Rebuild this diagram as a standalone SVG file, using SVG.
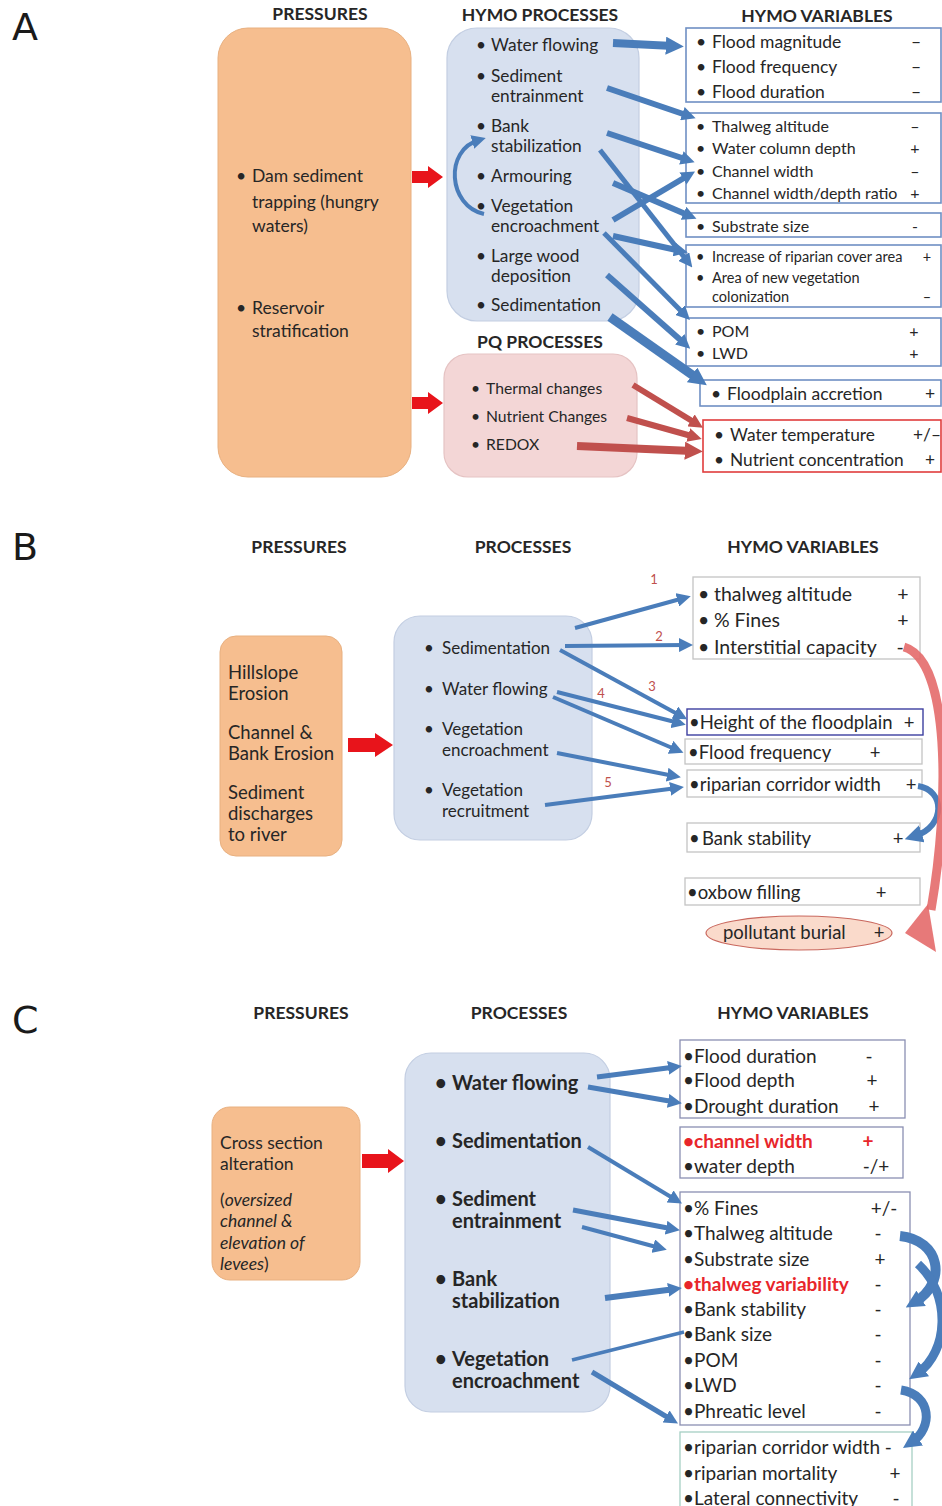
<svg xmlns="http://www.w3.org/2000/svg" width="942" height="1506" viewBox="0 0 942 1506">
<style>
text{font-family:Lato,"Open Sans","Liberation Sans",sans-serif;fill:#262626;dominant-baseline:central}
.lbl{font-family:"DejaVu Sans",sans-serif;font-size:38px;fill:#1a1a1a}
.hd{font-weight:bold;font-size:17.5px;text-anchor:middle}
.press{fill:#F6BE8F;stroke:#E8B080;stroke-width:1}
.proc{fill:#D7E0EF;stroke:#C3CEE2;stroke-width:1.2}
.pq{fill:#F3D6D6;stroke:#E5C3C3;stroke-width:1.2}
.vb{fill:#fff;stroke:#6F8FC4;stroke-width:1.6}
.vr{fill:#fff;stroke:#E03C3C;stroke-width:1.6}
.vg{fill:#fff;stroke:#C4C4C4;stroke-width:1.3}
.vc{fill:#fff;stroke:#8A8FB2;stroke-width:1.3}
.vt{fill:#fff;stroke:#A6CFC4;stroke-width:1.3}
.bl{fill:none;stroke:#4A7DBA;marker-end:url(#mb)}
.bL{fill:none;stroke:#4A7DBA;marker-end:url(#mB)}
.rl{fill:none;stroke:#C0504D;marker-end:url(#mr)}
.rL{fill:none;stroke:#C0504D;marker-end:url(#mR)}
.rp{fill:#E8141B}
.s{text-anchor:middle}
.num{fill:#C0504D;font-size:13px;text-anchor:middle}
.red{fill:#E8262B;font-weight:bold}
</style>
<defs>
<marker id="mb" viewBox="0 0 10 10" refX="5" refY="5" markerWidth="14" markerHeight="14" markerUnits="userSpaceOnUse" orient="auto"><path d="M0,0 L10,5 L0,10 z" fill="#4A7DBA"/></marker>
<marker id="mB" viewBox="0 0 10 10" refX="4" refY="5" markerWidth="18" markerHeight="18" markerUnits="userSpaceOnUse" orient="auto"><path d="M0,0 L10,5 L0,10 z" fill="#4A7DBA"/></marker>
<marker id="mr" viewBox="0 0 10 10" refX="5" refY="5" markerWidth="14" markerHeight="14" markerUnits="userSpaceOnUse" orient="auto"><path d="M0,0 L10,5 L0,10 z" fill="#C0504D"/></marker>
<marker id="mR" viewBox="0 0 10 10" refX="4" refY="5" markerWidth="18" markerHeight="18" markerUnits="userSpaceOnUse" orient="auto"><path d="M0,0 L10,5 L0,10 z" fill="#C0504D"/></marker>
</defs>

<!-- Panel labels -->
<text class="lbl" x="12" y="27">A</text>
<text class="lbl" x="12" y="547">B</text>
<text class="lbl" x="12" y="1020">C</text>

<!-- ================= PANEL A ================= -->
<g id="A-headers">
<text class="hd" x="320" y="13">PRESSURES</text>
<text class="hd" x="540" y="14">HYMO PROCESSES</text>
<text class="hd" x="817" y="15">HYMO VARIABLES</text>
<text class="hd" x="540" y="341">PQ PROCESSES</text>
</g>

<g id="A-pressures">
<rect class="press" x="218" y="28" width="193" height="449" rx="30"/>
<text font-size="17.5"><tspan x="236" y="175">•</tspan><tspan x="252" y="175">Dam sediment</tspan></text>
<text font-size="17.5" x="252" y="201">trapping (hungry</text>
<text font-size="17.5" x="252" y="225">waters)</text>
<text font-size="17.5"><tspan x="236" y="307">•</tspan><tspan x="252" y="307">Reservoir</tspan></text>
<text font-size="17.5" x="252" y="330">stratification</text>
</g>

<g id="A-hymo-processes">
<rect class="proc" x="447" y="28" width="192" height="293" rx="30"/>
<text font-size="17.3"><tspan x="476" y="44">•</tspan><tspan x="491" y="44">Water flowing</tspan></text>
<text font-size="17.3"><tspan x="476" y="75">•</tspan><tspan x="491" y="75">Sediment</tspan></text>
<text font-size="17.3" x="491" y="95">entrainment</text>
<text font-size="17.3"><tspan x="476" y="125">•</tspan><tspan x="491" y="125">Bank</tspan></text>
<text font-size="17.3" x="491" y="145">stabilization</text>
<text font-size="17.3"><tspan x="476" y="175">•</tspan><tspan x="491" y="175">Armouring</tspan></text>
<text font-size="17.3"><tspan x="476" y="205">•</tspan><tspan x="491" y="205">Vegetation</tspan></text>
<text font-size="17.3" x="491" y="225">encroachment</text>
<text font-size="17.3"><tspan x="476" y="255">•</tspan><tspan x="491" y="255">Large wood</tspan></text>
<text font-size="17.3" x="491" y="275">deposition</text>
<text font-size="17.3"><tspan x="476" y="304">•</tspan><tspan x="491" y="304">Sedimentation</tspan></text>
</g>

<g id="A-pq-processes">
<rect class="pq" x="444" y="354" width="193" height="123" rx="24"/>
<text font-size="15.7"><tspan x="471" y="388">•</tspan><tspan x="486" y="388">Thermal changes</tspan></text>
<text font-size="15.7"><tspan x="471" y="416">•</tspan><tspan x="486" y="416">Nutrient Changes</tspan></text>
<text font-size="15.7"><tspan x="471" y="444">•</tspan><tspan x="486" y="444">REDOX</tspan></text>
</g>

<g id="A-var-flood">
<rect class="vb" x="686" y="28" width="255" height="74"/>
<text font-size="17.5"><tspan x="696" y="41">•</tspan><tspan x="712" y="41">Flood magnitude</tspan></text>
<text font-size="17.5"><tspan x="696" y="66">•</tspan><tspan x="712" y="66">Flood frequency</tspan></text>
<text font-size="17.5"><tspan x="696" y="91">•</tspan><tspan x="712" y="91">Flood duration</tspan></text>
<text class="s" font-size="17.5" x="916" y="41">–</text>
<text class="s" font-size="17.5" x="916" y="66">–</text>
<text class="s" font-size="17.5" x="916" y="91">–</text>
</g>

<g id="A-var-channel">
<rect class="vb" x="686" y="113" width="255" height="90"/>
<text font-size="16"><tspan x="696" y="125">•</tspan><tspan x="712" y="125">Thalweg altitude</tspan></text>
<text font-size="16"><tspan x="696" y="147">•</tspan><tspan x="712" y="147">Water column depth</tspan></text>
<text font-size="16"><tspan x="696" y="170">•</tspan><tspan x="712" y="170">Channel width</tspan></text>
<text font-size="16"><tspan x="696" y="192">•</tspan><tspan x="712" y="192">Channel width/depth ratio</tspan></text>
<text class="s" font-size="16" x="915" y="125">–</text>
<text class="s" font-size="16" x="915" y="147">+</text>
<text class="s" font-size="16" x="915" y="170">–</text>
<text class="s" font-size="16" x="915" y="192">+</text>
</g>

<g id="A-var-substrate">
<rect class="vb" x="686" y="213" width="255" height="24"/>
<text font-size="16"><tspan x="696" y="225">•</tspan><tspan x="712" y="225">Substrate size</tspan></text>
<text class="s" font-size="16" x="915" y="225">-</text>
</g>

<g id="A-var-riparian">
<rect class="vb" x="686" y="245" width="255" height="62"/>
<text font-size="14.5"><tspan x="696" y="256">•</tspan><tspan x="712" y="256">Increase of riparian cover area</tspan></text>
<text font-size="14.5"><tspan x="696" y="277">•</tspan><tspan x="712" y="277">Area of new vegetation</tspan></text>
<text font-size="14.5" x="712" y="296">colonization</text>
<text class="s" font-size="14.5" x="927" y="256">+</text>
<text class="s" font-size="14.5" x="927" y="296">–</text>
</g>

<g id="A-var-wood">
<rect class="vb" x="686" y="318" width="255" height="48"/>
<text font-size="16"><tspan x="696" y="330">•</tspan><tspan x="712" y="330">POM</tspan></text>
<text font-size="16"><tspan x="696" y="352">•</tspan><tspan x="712" y="352">LWD</tspan></text>
<text class="s" font-size="16" x="914" y="330">+</text>
<text class="s" font-size="16" x="914" y="352">+</text>
</g>

<g id="A-var-floodplain">
<rect class="vb" x="700" y="380" width="241" height="26"/>
<text font-size="17.5"><tspan x="711" y="393">•</tspan><tspan x="727" y="393">Floodplain accretion</tspan></text>
<text class="s" font-size="17.5" x="930" y="393">+</text>
</g>

<g id="A-var-pq">
<rect class="vr" x="703" y="420" width="238" height="52"/>
<text font-size="17.3"><tspan x="714" y="434">•</tspan><tspan x="730" y="434">Water temperature</tspan></text>
<text font-size="17.3"><tspan x="714" y="459">•</tspan><tspan x="730" y="459">Nutrient concentration</tspan></text>
<text class="s" font-size="17.3" x="927" y="434">+/–</text>
<text class="s" font-size="17.3" x="930" y="459">+</text>
</g>

<g id="A-connectors">
<path class="rp" d="M412,171 H428 V166 L443,177 L428,188 V183 H412 Z"/>
<path class="rp" d="M412,397 H428 V392 L443,403 L428,414 V409 H412 Z"/>
<path class="bl" stroke-width="4" d="M484,214 C448,206 444,150 479,140"/>
<line class="bL" stroke-width="8" x1="613" y1="43" x2="673" y2="46"/>
<line class="bl" stroke-width="6" x1="607" y1="88" x2="689" y2="116"/>
<line class="bl" stroke-width="6" x1="607" y1="133" x2="688" y2="160"/>
<line class="bl" stroke-width="5" x1="600" y1="150" x2="688" y2="262"/>
<line class="bl" stroke-width="6" x1="613" y1="183" x2="690" y2="216"/>
<line class="bl" stroke-width="6" x1="613" y1="220" x2="689" y2="175"/>
<line class="bl" stroke-width="6" x1="613" y1="236" x2="681" y2="251"/>
<line class="bl" stroke-width="5" x1="604" y1="233" x2="685" y2="315"/>
<line class="bl" stroke-width="6" x1="607" y1="275" x2="685" y2="344"/>
<line class="bL" stroke-width="9" x1="610" y1="317" x2="698" y2="379"/>
<line class="rl" stroke-width="6" x1="633" y1="385" x2="697" y2="424"/>
<line class="rl" stroke-width="6" x1="627" y1="418" x2="695" y2="437"/>
<line class="rL" stroke-width="8" x1="577" y1="446" x2="692" y2="451"/>
</g>

<!-- ================= PANEL B ================= -->
<g id="B-headers">
<text class="hd" x="299" y="546">PRESSURES</text>
<text class="hd" x="523" y="546">PROCESSES</text>
<text class="hd" x="803" y="546">HYMO VARIABLES</text>
</g>

<g id="B-pressures">
<rect class="press" x="220" y="636" width="122" height="220" rx="16"/>
<text font-size="18.5" x="228" y="672">Hillslope</text>
<text font-size="18.5" x="228" y="693">Erosion</text>
<text font-size="18.5" x="228" y="732">Channel &amp;</text>
<text font-size="18.5" x="228" y="753">Bank Erosion</text>
<text font-size="18.5" x="228" y="792">Sediment</text>
<text font-size="18.5" x="228" y="813">discharges</text>
<text font-size="18.5" x="228" y="834">to river</text>
</g>

<g id="B-processes">
<rect class="proc" x="394" y="616" width="198" height="224" rx="26"/>
<text font-size="17"><tspan x="424" y="647">•</tspan><tspan x="442" y="647">Sedimentation</tspan></text>
<text font-size="17"><tspan x="424" y="688">•</tspan><tspan x="442" y="688">Water flowing</tspan></text>
<text font-size="17"><tspan x="424" y="728">•</tspan><tspan x="442" y="728">Vegetation</tspan></text>
<text font-size="17" x="442" y="749">encroachment</text>
<text font-size="17"><tspan x="424" y="789">•</tspan><tspan x="442" y="789">Vegetation</tspan></text>
<text font-size="17" x="442" y="810">recruitment</text>
</g>

<g id="B-var-bed">
<rect class="vg" x="693" y="577" width="227" height="82"/>
<text font-size="19.5"><tspan x="698" y="593">•</tspan><tspan x="714" y="593">thalweg altitude</tspan></text>
<text font-size="19.5"><tspan x="698" y="619">•</tspan><tspan x="714" y="619">% Fines</tspan></text>
<text font-size="19.5"><tspan x="698" y="646">•</tspan><tspan x="714" y="646">Interstitial capacity</tspan></text>
<text class="s" font-size="19.5" x="903" y="593">+</text>
<text class="s" font-size="19.5" x="903" y="619">+</text>
<text class="s" font-size="19.5" x="900" y="646">-</text>
</g>

<g id="B-var-height">
<rect fill="#fff" stroke="#3D3FA0" stroke-width="1.4" x="687" y="709" width="236" height="26"/>
<text font-size="18.5" x="689" y="722">•Height of the floodplain</text>
<text class="s" font-size="18.5" x="909" y="722">+</text>
</g>
<g id="B-var-floodfreq">
<rect class="vg" x="685" y="739" width="237" height="25"/>
<text font-size="18.5" x="688" y="752">•Flood frequency</text>
<text class="s" font-size="18.5" x="875" y="752">+</text>
</g>
<g id="B-var-riparian">
<rect class="vg" x="687" y="770" width="235" height="27"/>
<text font-size="18.5" x="689" y="784">•riparian corridor width</text>
<text class="s" font-size="18.5" x="911" y="784">+</text>
</g>
<g id="B-var-bank">
<rect class="vg" x="687" y="823" width="233" height="29"/>
<text font-size="18.5"><tspan x="689" y="838">•</tspan><tspan x="702" y="838">Bank stability</tspan></text>
<text class="s" font-size="18.5" x="898" y="838">+</text>
</g>
<g id="B-var-oxbow">
<rect class="vg" x="685" y="878" width="235" height="27"/>
<text font-size="18.5" x="687" y="892">•oxbow filling</text>
<text class="s" font-size="18.5" x="881" y="892">+</text>
</g>
<g id="B-var-pollutant">
<ellipse cx="799" cy="933" rx="93" ry="17" fill="#FADACB" stroke="#C9685E" stroke-width="1.2"/>
<text font-size="18.5" x="723" y="932">pollutant burial</text>
<text class="s" font-size="18.5" x="879" y="932">+</text>
</g>

<g id="B-connectors">
<path class="rp" d="M348,738 H375 V733 L393,745 L375,757 V752 H348 Z"/>
<line class="bl" stroke-width="4" x1="575" y1="628" x2="684" y2="598"/>
<line class="bl" stroke-width="4" x1="565" y1="646" x2="686" y2="645"/>
<line class="bl" stroke-width="4" x1="560" y1="650" x2="681" y2="716"/>
<line class="bl" stroke-width="4" x1="557" y1="692" x2="679" y2="723"/>
<line class="bl" stroke-width="4" x1="553" y1="697" x2="677" y2="750"/>
<line class="bl" stroke-width="4" x1="557" y1="753" x2="674" y2="776"/>
<line class="bl" stroke-width="4" x1="545" y1="805" x2="677" y2="788"/>
<path class="bL" stroke-width="6" d="M918,786 C945,790 946,826 915,836"/>
<path d="M904,647 C950,660 950,800 931,910" fill="none" stroke="#E46A6A" stroke-width="9" stroke-opacity="0.9"/>
<path d="M905,933 L928,904 L936,952 Z" fill="#E46A6A" fill-opacity="0.9"/>
<text class="num" x="654" y="579">1</text>
<text class="num" x="659" y="636">2</text>
<text class="num" x="652" y="686">3</text>
<text class="num" x="601" y="693">4</text>
<text class="num" x="608" y="782">5</text>
</g>

<!-- ================= PANEL C ================= -->
<g id="C-headers">
<text class="hd" x="301" y="1012">PRESSURES</text>
<text class="hd" x="519" y="1012">PROCESSES</text>
<text class="hd" x="793" y="1012">HYMO VARIABLES</text>
</g>

<g id="C-pressures">
<rect class="press" x="212" y="1107" width="148" height="173" rx="18"/>
<text font-size="17.5" x="220" y="1142">Cross section</text>
<text font-size="17.5" x="220" y="1163">alteration</text>
<text font-size="17.5" x="220" y="1199">(<tspan font-style="italic">oversized</tspan></text>
<text font-size="17.5" font-style="italic" x="220" y="1220">channel &amp;</text>
<text font-size="17.5" font-style="italic" x="220" y="1242">elevation of</text>
<text font-size="17.5" x="220" y="1263"><tspan font-style="italic">levees</tspan>)</text>
</g>

<g id="C-processes">
<rect class="proc" x="405" y="1053" width="205" height="359" rx="26"/>
<text font-size="20" font-weight="bold"><tspan x="435" y="1082">•</tspan><tspan x="452" y="1082">Water flowing</tspan></text>
<text font-size="20" font-weight="bold"><tspan x="435" y="1140">•</tspan><tspan x="452" y="1140">Sedimentation</tspan></text>
<text font-size="20" font-weight="bold"><tspan x="435" y="1198">•</tspan><tspan x="452" y="1198">Sediment</tspan></text>
<text font-size="20" font-weight="bold" x="452" y="1220">entrainment</text>
<text font-size="20" font-weight="bold"><tspan x="435" y="1278">•</tspan><tspan x="452" y="1278">Bank</tspan></text>
<text font-size="20" font-weight="bold" x="452" y="1300">stabilization</text>
<text font-size="20" font-weight="bold"><tspan x="435" y="1358">•</tspan><tspan x="452" y="1358">Vegetation</tspan></text>
<text font-size="20" font-weight="bold" x="452" y="1380">encroachment</text>
</g>

<g id="C-var-flood">
<rect class="vc" x="680" y="1040" width="225" height="78"/>
<text font-size="19" x="683" y="1055">•Flood duration</text>
<text font-size="19" x="683" y="1079">•Flood depth</text>
<text font-size="19" x="683" y="1105">•Drought duration</text>
<text class="s" font-size="19" x="869" y="1055">-</text>
<text class="s" font-size="19" x="872" y="1079">+</text>
<text class="s" font-size="19" x="874" y="1105">+</text>
</g>

<g id="C-var-channel">
<rect class="vc" x="680" y="1127" width="223" height="51"/>
<text class="red" font-size="19" x="683" y="1140">•channel width</text>
<text font-size="19" x="683" y="1165">•water depth</text>
<text class="s red" font-size="19" x="868" y="1140">+</text>
<text class="s" font-size="19" x="876" y="1165">-/+</text>
</g>

<g id="C-var-bed">
<rect class="vc" x="680" y="1192" width="230" height="233"/>
<text font-size="19" x="683" y="1207">•% Fines</text>
<text font-size="19" x="683" y="1232">•Thalweg altitude</text>
<text font-size="19" x="683" y="1258">•Substrate size</text>
<text class="red" font-size="19" x="683" y="1283">•thalweg variability</text>
<text font-size="19" x="683" y="1308">•Bank stability</text>
<text font-size="19" x="683" y="1333">•Bank size</text>
<text font-size="19" x="683" y="1359">•POM</text>
<text font-size="19" x="683" y="1384">•LWD</text>
<text font-size="19" x="683" y="1410">•Phreatic level</text>
<text class="s" font-size="19" x="884" y="1207">+/-</text>
<text class="s" font-size="19" x="878" y="1232">-</text>
<text class="s" font-size="19" x="880" y="1258">+</text>
<text class="s" font-size="19" x="878" y="1283" fill="#E8262B">-</text>
<text class="s" font-size="19" x="878" y="1308">-</text>
<text class="s" font-size="19" x="878" y="1333">-</text>
<text class="s" font-size="19" x="878" y="1359">-</text>
<text class="s" font-size="19" x="878" y="1384">-</text>
<text class="s" font-size="19" x="878" y="1410">-</text>
</g>

<g id="C-var-riparian">
<rect class="vt" x="680" y="1432" width="232" height="80"/>
<text font-size="19" x="683" y="1446">•riparian corridor width -</text>
<text font-size="19" x="683" y="1472">•riparian mortality</text>
<text font-size="19" x="683" y="1497">•Lateral connectivity</text>
<text class="s" font-size="19" x="895" y="1472">+</text>
<text class="s" font-size="19" x="896" y="1497">-</text>
</g>

<g id="C-connectors">
<path class="rp" d="M362,1154 H388 V1149 L404,1161 L388,1173 V1168 H362 Z"/>
<line class="bl" stroke-width="5" x1="597" y1="1077" x2="675" y2="1067"/>
<line class="bl" stroke-width="5" x1="588" y1="1087" x2="675" y2="1102"/>
<line class="bl" stroke-width="4" x1="588" y1="1147" x2="676" y2="1200"/>
<line class="bl" stroke-width="5" x1="573" y1="1210" x2="673" y2="1229"/>
<line class="bl" stroke-width="4" x1="582" y1="1227" x2="660" y2="1248"/>
<line class="bl" stroke-width="6" x1="605" y1="1298" x2="675" y2="1289"/>
<line stroke="#4A7DBA" stroke-width="3.5" x1="572" y1="1360" x2="684" y2="1332"/>
<line class="bl" stroke-width="5" x1="592" y1="1372" x2="672" y2="1420"/>
<path class="bL" stroke-width="10" d="M900,1236 C940,1240 948,1282 915,1302"/>
<path class="bL" stroke-width="9" d="M918,1264 C952,1295 948,1352 918,1373"/>
<path class="bL" stroke-width="9" d="M901,1390 C932,1395 933,1428 912,1442"/>
</g>
</svg>
